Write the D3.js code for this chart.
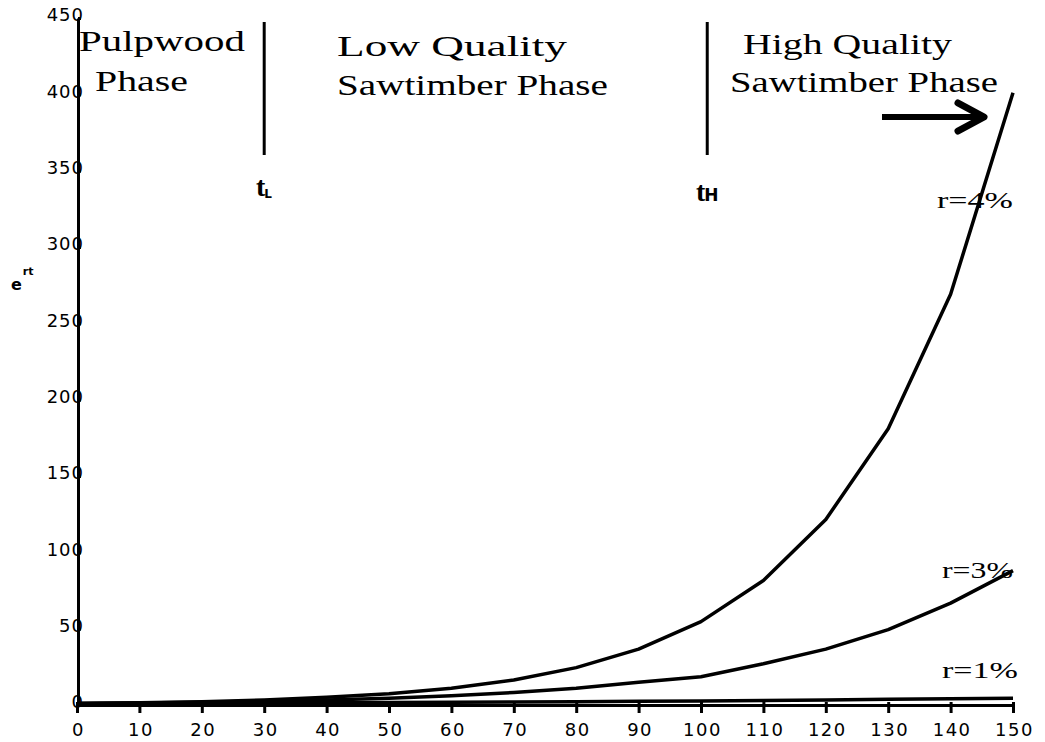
<!DOCTYPE html>
<html><head><meta charset="utf-8">
<script src="https://cdn.jsdelivr.net/npm/d3@7"></script>
<style>body{margin:0;background:#fff}svg{display:block}</style>
</head><body>
<svg id="c" width="1045" height="742"></svg>
<script>
const years = [0,10,20,30,40,50,60,70,80,90,100,110,120,130,140,150];
const r4 = [1,1.5,2.2,3.3,5,7.4,11,16.4,24.5,36.6,54.6,81.5,121.5,181,269,401];
const r3 = [1,1.35,1.8,2.5,3.3,4.5,6,8.2,11,14.9,18.5,27,36.6,49.4,66.7,88];
const r1 = [1,1.1,1.2,1.35,1.5,1.65,1.8,2,2.2,2.5,2.7,3,3.3,3.7,4.1,4.5];
const seriesLabels = ["r=4%","r=3%","r=1%"];
const xTicks = [0,10,20,30,40,50,60,70,80,90,100,110,120,130,140,150];
const yTicks = [0,50,100,150,200,250,300,350,400,450];
const phaseBounds = [30, 101];

const svg = d3.select("#c");
const x = d3.scaleLinear().domain([0,150]).range([77,1013]);
const y = d3.scaleLinear().domain([0,450]).range([705,18]);

// axes
const xa = svg.append("g").attr("transform","translate(0,705)")
  .call(d3.axisBottom(x).tickValues(xTicks).tickSize(8).tickSizeOuter(0).tickPadding(8));
xa.select(".domain").attr("stroke","#000").attr("stroke-width",3);
xa.selectAll(".tick line").attr("stroke","#000").attr("stroke-width",3).attr("y1",-3);
xa.selectAll(".tick text").attr("font-family","DejaVu Sans").attr("font-size",18)
  .attr("letter-spacing","1.5px").attr("fill","#000").attr("dy","0.85em").attr("dx","1px");

const ya = svg.append("g").attr("transform","translate(78,0)")
  .call(d3.axisLeft(y).tickValues(yTicks).tickSize(3).tickSizeOuter(0).tickPadding(-9));
ya.select(".domain").attr("stroke","#000").attr("stroke-width",3);
ya.selectAll(".tick line").attr("stroke","#000").attr("stroke-width",3).attr("x2",3);
ya.selectAll(".tick text").attr("font-family","DejaVu Sans").attr("font-size",18)
  .attr("letter-spacing","1px").attr("fill","#000").attr("dy","0.15em");
ya.select(".domain").raise();

// lines
const line = d3.line().x((d,i)=>x(years[i])).y(d=>y(d));
[r1,r3,r4].forEach(s=>{
  svg.append("path").datum(s).attr("d",line).attr("fill","none")
    .attr("stroke","#000").attr("stroke-width",3.5).attr("stroke-linejoin","round");
});

// phase boundaries
phaseBounds.forEach(b=>{
  svg.append("line").attr("x1",x(b)).attr("x2",x(b)).attr("y1",22).attr("y2",155)
    .attr("stroke","#000").attr("stroke-width",3);
});

const serif = "Liberation Serif";
function txt(s,x0,x1,yb,size,w){
  svg.append("text").attr("x",x0).attr("y",yb).attr("font-family",serif)
    .attr("font-size",size).attr("font-weight",w||"normal")
    .attr("textLength",x1-x0).attr("lengthAdjust","spacingAndGlyphs")
    .attr("fill","#000").text(s);
}
txt("Pulpwood",79,245,51,29);
txt("Phase",95,188,91,29);
txt("Low Quality",337,567,56,29);
txt("Sawtimber Phase",337,608,95,29);
txt("High Quality",743,952,54,29);
txt("Sawtimber Phase",730,998,92,29);

// t labels
const tl = svg.append("text").attr("x",256).attr("y",196).attr("font-family",serif)
  .attr("font-weight","bold").attr("font-size",28).attr("fill","#000");
tl.append("tspan").text("t");
tl.append("tspan").attr("font-size",12).attr("dy",2).attr("dx",-1).attr("font-family","DejaVu Sans").text("L");
const th = svg.append("text").attr("x",696).attr("y",201).attr("font-family",serif)
  .attr("font-weight","bold").attr("font-size",28).attr("fill","#000");
th.append("tspan").text("t");
th.append("tspan").attr("font-size",17).attr("dy",0).attr("dx",-1).attr("font-family","DejaVu Sans").text("H");

// arrow
svg.append("line").attr("x1",882).attr("x2",980).attr("y1",117).attr("y2",117)
  .attr("stroke","#000").attr("stroke-width",6);
svg.append("path").attr("d","M958,103 L984,117 L958,131").attr("fill","none")
  .attr("stroke","#000").attr("stroke-width",7).attr("stroke-linejoin","round").attr("stroke-linecap","round");

// series labels
const labPos = [[937,1013,208],[942,1013,578],[942,1018,678]];
seriesLabels.forEach((s,i)=>txt(s,labPos[i][0],labPos[i][1],labPos[i][2],24));

// y label
const yl = svg.append("text").attr("x",11).attr("y",290).attr("font-family","DejaVu Sans")
  .attr("font-weight","bold").attr("font-size",16).attr("fill","#000");
yl.append("tspan").text("e");
yl.append("tspan").attr("font-size",11).attr("dy",-15).attr("dx",1).text("rt");
</script>
</body></html>
